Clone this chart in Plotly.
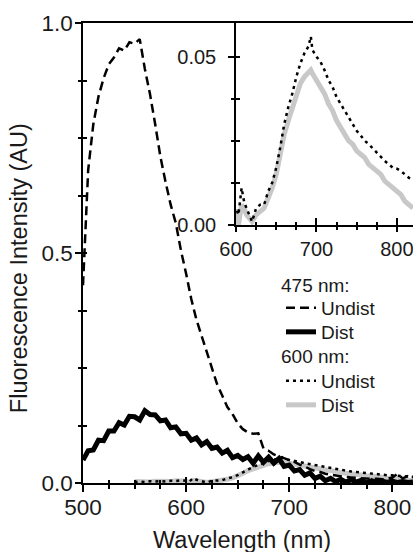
import plotly.graph_objects as go

# ---------------- data ----------------
wl_475 = [500, 505, 510, 515, 520, 525, 530, 535, 540, 545, 550, 555, 560, 565, 570,
          575, 580, 585, 590, 595, 600, 605, 610, 615, 620, 625, 630, 635, 640, 645,
          650, 655, 660, 665, 670, 675, 680, 685, 690, 695, 700, 705, 710, 715, 720,
          725, 730, 735, 740, 745, 750, 755, 760, 765, 770, 775, 780, 785, 790, 795,
          800, 805, 810, 815, 820]

undist_475 = [0.43, 0.68, 0.78, 0.84, 0.88, 0.91, 0.925, 0.945, 0.94, 0.958, 0.955, 0.965, 0.90, 0.845, 0.78,
              0.71, 0.655, 0.605, 0.565, 0.505, 0.455, 0.40, 0.355, 0.32, 0.28, 0.245, 0.215, 0.19, 0.165, 0.15,
              0.13, 0.117, 0.11, 0.107, 0.108, 0.075, 0.07, 0.062, 0.058, 0.055, 0.05, 0.046, 0.04, 0.036, 0.03,
              0.026, 0.024, 0.02, 0.018, 0.016, 0.014, 0.013, 0.012, 0.011, 0.01, 0.01, 0.009, 0.009, 0.008, 0.009,
              0.012, 0.02, 0.01, 0.015, 0.01]

dist_475 = [0.050, 0.070, 0.072, 0.093, 0.092, 0.113, 0.113, 0.131, 0.126, 0.145, 0.144, 0.137, 0.157, 0.149, 0.148,
            0.135, 0.137, 0.120, 0.122, 0.107, 0.108, 0.093, 0.098, 0.083, 0.090, 0.075, 0.078, 0.065, 0.071, 0.055,
            0.060, 0.051, 0.057, 0.043, 0.059, 0.045, 0.056, 0.043, 0.053, 0.036, 0.039, 0.026, 0.029, 0.017, 0.022,
            0.010, 0.015, 0.005, 0.010, 0.003, 0.008, 0.002, 0.007, 0.002, 0.006, 0.001, 0.005, 0.001, 0.004, 0.001,
            0.004, 0.001, 0.003, 0.001, 0.002]

wl_600 = [550, 555, 560, 565, 570, 575, 580, 585, 590, 595, 600, 603, 607, 610, 613, 617, 620, 625, 630, 635,
          640, 645, 650, 655, 660, 665, 670, 675, 680, 685, 690, 693, 695, 700, 705, 710, 715, 720, 725, 730,
          735, 740, 745, 750, 755, 760, 765, 770, 775, 780, 785, 790, 795, 800, 805, 810, 815, 820]

undist_600 = [0.002, 0.003, 0.002, 0.004, 0.003, 0.004, 0.003, 0.005, 0.004, 0.006, 0.005, 0.003, 0.011, 0.007, 0.005, 0.003, 0.001, 0.005, 0.006, 0.006,
              0.010, 0.0125, 0.017, 0.023, 0.030, 0.035, 0.039, 0.044, 0.048, 0.051, 0.053, 0.056, 0.052, 0.050, 0.0485, 0.046, 0.043, 0.041, 0.038, 0.036,
              0.034, 0.032, 0.030, 0.028, 0.0266, 0.025, 0.024, 0.0227, 0.0216, 0.020, 0.019, 0.018, 0.017, 0.0167, 0.016, 0.015, 0.014, 0.0135]

dist_600 = [0.003, 0.002, 0.003, 0.002, 0.004, 0.003, 0.004, 0.003, 0.005, 0.004, 0.004, 0.000, 0.006, 0.005, 0.003, 0.002, 0.001, 0.003, 0.004, 0.005,
            0.008, 0.011, 0.015, 0.021, 0.027, 0.031, 0.035, 0.039, 0.042, 0.044, 0.045, 0.046, 0.045, 0.043, 0.041, 0.039, 0.036, 0.034, 0.031, 0.029,
            0.027, 0.025, 0.024, 0.022, 0.021, 0.020, 0.018, 0.017, 0.016, 0.015, 0.013, 0.012, 0.011, 0.010, 0.009, 0.007, 0.006, 0.005]

main_x_ticks = [500, 600, 700, 800]
main_y_ticks = [0.0, 0.5, 1.0]
inset_x_ticks = [600, 700, 800]
inset_y_ticks = [0.00, 0.05]

# ---------------- styles ----------------
TXT = "#1a1a1a"
FONT = "Liberation Sans, Arial, sans-serif"
GRAY = "#c8c8c8"

fig = go.Figure()

def add_600(xa, ya, show):
    fig.add_trace(go.Scatter(x=wl_600, y=dist_600, mode="lines", name="Dist",
                             line=dict(color=GRAY, width=5), legend="legend4",
                             showlegend=show, xaxis=xa, yaxis=ya))
    fig.add_trace(go.Scatter(x=wl_600, y=undist_600, mode="lines", name="Undist",
                             line=dict(color="black", width=2.5, dash="3px,4px"), legend="legend3",
                             showlegend=show, xaxis=xa, yaxis=ya))

add_600("x", "y", True)
fig.add_trace(go.Scatter(x=wl_475, y=dist_475, mode="lines", name="Dist",
                         line=dict(color="black", width=5), legend="legend2"))
fig.add_trace(go.Scatter(x=wl_475, y=undist_475, mode="lines", name="Undist",
                         line=dict(color="black", width=2.5, dash="9px,5px"), legend="legend"))
add_600("x2", "y2", False)

# empty traces so the overlay (inside-tick) axes are drawn
fig.add_trace(go.Scatter(x=[None], y=[None], xaxis="x3", yaxis="y3", showlegend=False, hoverinfo="skip"))
fig.add_trace(go.Scatter(x=[None], y=[None], xaxis="x4", yaxis="y4", showlegend=False, hoverinfo="skip"))

INSET_X0 = 0.4636
INSET_Y0 = 0.561

def lin(ticks):
    return dict(tickmode="linear", tick0=ticks[0], dtick=ticks[1] - ticks[0])

common = dict(showgrid=False, zeroline=False, linecolor="black", linewidth=1.5,
              tickcolor="black", tickwidth=1.5)

def minor(d, t0, kind, ln):
    return dict(dtick=d, tick0=t0, ticks=kind, ticklen=ln, tickcolor="black", tickwidth=1.5,
                showgrid=False)

LEG_X = 0.600
def leg(y):
    return dict(x=LEG_X, y=y, xanchor="left", yanchor="middle",
                font=dict(size=19, color=TXT, family=FONT),
                bgcolor="rgba(0,0,0,0)", borderwidth=0, itemwidth=30)

fig.update_layout(
    width=413, height=552,
    margin=dict(l=83, r=0, t=23, b=69),
    paper_bgcolor="white", plot_bgcolor="white",
    font=dict(family=FONT, color=TXT, size=22),
    showlegend=True,
    legend=leg(0.3804),
    legend2=leg(0.3283),
    legend3=leg(0.2217),
    legend4=leg(0.1696),
    xaxis=dict(domain=[0, 1], range=[500, 820], **lin(main_x_ticks),
               ticks="outside", ticklen=7, mirror=True, anchor="y",
               tickfont=dict(size=22.5), ticklabelstandoff=-4, ticklabeloverflow="allow",
               minor=minor(25, 500, "outside", 4), **common),
    yaxis=dict(domain=[0, 1], range=[0, 1.0], **lin(main_y_ticks), tickformat=".1f",
               ticks="outside", ticklen=6, anchor="x",
               tickfont=dict(size=22.5), ticklabelstandoff=-2,
               minor=minor(0.125, 0, "outside", 3), **common),
    xaxis3=dict(overlaying="x", range=[500, 820], **lin(main_x_ticks), anchor="y",
                ticks="inside", ticklen=6, showticklabels=False,
                minor=minor(25, 500, "inside", 3), **common),
    yaxis3=dict(overlaying="y", range=[0, 1.0], **lin(main_y_ticks), anchor="x",
                ticks="inside", ticklen=4, showticklabels=False,
                minor=minor(0.125, 0, "inside", 4), **common),
    xaxis2=dict(domain=[INSET_X0, 1], range=[600, 820], **lin(inset_x_ticks),
                anchor="y2", ticks="outside", ticklen=5,
                tickfont=dict(size=20), ticklabelstandoff=0, ticklabeloverflow="allow",
                minor=minor(25, 600, "outside", 3), **common),
    yaxis2=dict(domain=[INSET_Y0, 1], range=[0, 0.06], **lin(inset_y_ticks), tickformat=".2f",
                anchor="x2", ticks="outside", ticklen=6,
                tickfont=dict(size=20), ticklabelstandoff=8,
                minor=minor(0.0125, 0, "outside", 3), **common),
    xaxis4=dict(overlaying="x2", range=[600, 820], **lin(inset_x_ticks), anchor="y2",
                ticks="inside", ticklen=7, showticklabels=False,
                minor=minor(25, 600, "inside", 3), **common),
    yaxis4=dict(overlaying="y2", range=[0, 0.06], **lin(inset_y_ticks), anchor="x2",
                ticks="inside", ticklen=4, showticklabels=False,
                minor=minor(0.0125, 0, "inside", 4), **common),
    annotations=[
        dict(text="Wavelength (nm)", x=0.483, y=-0.124, xref="paper", yref="paper",
             xanchor="center", yanchor="middle", showarrow=False, font=dict(size=23.5)),
        dict(text="Fluorescence Intensity (AU)", x=-0.194, y=0.467, xref="paper", yref="paper",
             xanchor="center", yanchor="middle", textangle=-90, showarrow=False, font=dict(size=23.5)),
        dict(text="475 nm:", x=0.594, y=0.430, xref="paper", yref="paper",
             xanchor="left", yanchor="middle", showarrow=False, font=dict(size=19)),
        dict(text="600 nm:", x=0.594, y=0.274, xref="paper", yref="paper",
             xanchor="left", yanchor="middle", showarrow=False, font=dict(size=19)),
    ],
)

fig.write_html("out.html")
